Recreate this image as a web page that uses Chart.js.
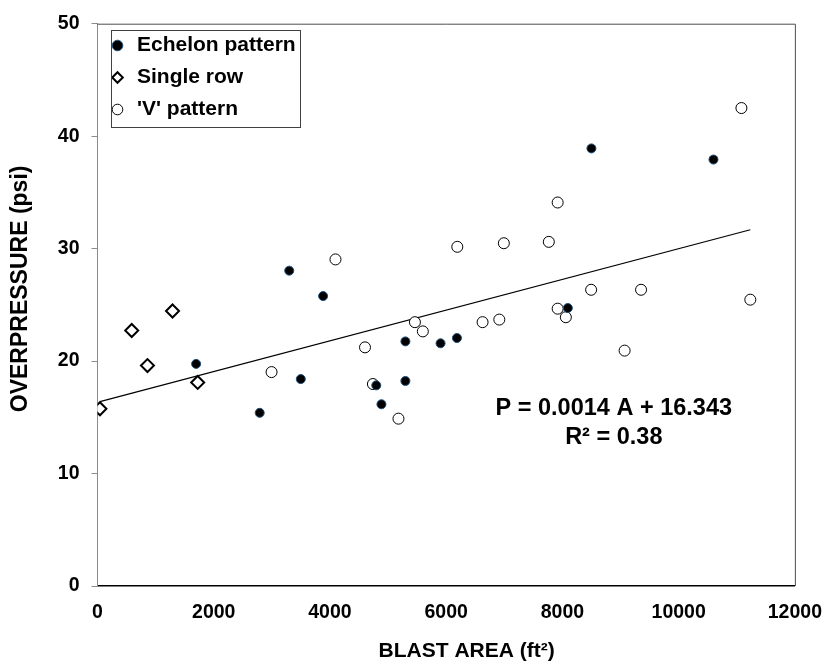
<!DOCTYPE html>
<html>
<head>
<meta charset="utf-8">
<script src="https://cdn.jsdelivr.net/npm/chart.js@4.4.1/dist/chart.umd.min.js"></script>
<style>
html,body{margin:0;padding:0;background:#fff;}
#wrap{width:837px;height:662px;}
</style>
</head>
<body>
<div id="wrap"><canvas id="c" width="837" height="662"></canvas></div>
<script>
// ---- data ----
const seriesNames = ["Echelon pattern", "Single row", "'V' pattern"];

const echelonArea     = [1697, 2791, 3299, 3498, 3882, 4797, 4886, 5298, 5298, 5903, 6185, 8093, 8499, 10599];
const echelonPressure = [19.75, 15.40, 28.04, 18.40, 25.78, 17.84, 16.16, 21.75, 18.23, 21.58, 22.05, 24.72, 38.91, 37.92];

const singleArea     = [42, 589, 860, 1291, 1724];
const singlePressure = [15.76, 22.72, 19.60, 24.45, 18.10];

const vArea     = [2995, 4095, 4603, 4739, 5179, 5462, 5598, 6191, 6626, 6914, 6992, 7766, 7918, 7918, 8059, 8494, 9070, 9353, 11080, 11233];
const vPressure = [19.02, 29.04, 21.22, 17.96, 14.88, 23.46, 22.64, 30.16, 23.46, 23.69, 30.48, 30.60, 34.10, 24.66, 23.90, 26.34, 20.93, 26.34, 42.50, 25.46];

const trendArea     = [42, 11233];
const trendPressure = [16.40, 31.68];

const xTickValues = [0, 2000, 4000, 6000, 8000, 10000, 12000];
const yTickValues = [0, 10, 20, 30, 40, 50];

const xAxisTitle = "BLAST AREA (ft\u00B2)";
const yAxisTitle = "OVERPRESSURE (psi)";
const equationLines = ["P = 0.0014 A + 16.343", "R\u00B2 = 0.38"];

// ---- build chart ----
const FONT = "'Liberation Sans', Arial, Helvetica, sans-serif";
const toPts = (xs, ys) => xs.map((x, i) => ({x: x, y: ys[i]}));

const notesPlugin = {
  id: 'notes',
  afterDraw(chart, args, opts) {
    const ctx = chart.ctx;
    const a = chart.chartArea;
    ctx.save();
    // top and right frame of plot area
    ctx.strokeStyle = '#4d4d4d';
    ctx.lineWidth = 1;
    ctx.beginPath();
    ctx.moveTo(a.left, a.top + 0.5);
    ctx.lineTo(a.right + 0.5, a.top + 0.5);
    ctx.lineTo(a.right + 0.5, a.bottom);
    ctx.stroke();
    // legend frame
    const lg = chart.legend;
    if (lg && lg.legendHitBoxes && lg.legendHitBoxes.length) {
      const hb = lg.legendHitBoxes;
      const l = hb[0].left + 2.5;
      const t = hb[0].top - 5;
      const last = hb[hb.length - 1];
      const b = last.top + last.height + 6.5;
      const r = l + 189;
      ctx.strokeStyle = '#404040';
      ctx.lineWidth = 1;
      ctx.strokeRect(Math.round(l) + 0.5, Math.round(t) + 0.5, Math.round(r - l), Math.round(b - t));
    }
    // regression equation
    const xs = chart.scales.x, ys = chart.scales.y;
    ctx.fillStyle = '#000';
    ctx.font = 'bold 23.5px ' + FONT;
    ctx.textAlign = 'center';
    ctx.textBaseline = 'middle';
    const cx = xs.getPixelForValue(opts.anchorX);
    ctx.fillText(equationLines[0], cx, ys.getPixelForValue(opts.line1Y));
    ctx.fillText(equationLines[1], cx, ys.getPixelForValue(opts.line2Y));
    ctx.restore();
  }
};

new Chart(document.getElementById('c'), {
  type: 'scatter',
  data: {
    datasets: [
      {
        label: seriesNames[0],
        data: toPts(echelonArea, echelonPressure),
        pointStyle: 'circle',
        pointRadius: 4.5,
        pointHoverRadius: 4.5,
        backgroundColor: '#000000',
        borderColor: '#1F4E79',
        pointBorderWidth: 1,
        order: 0
      },
      {
        label: seriesNames[1],
        data: toPts(singleArea, singlePressure),
        pointStyle: 'rectRot',
        pointRadius: 6.5,
        pointHoverRadius: 6.5,
        backgroundColor: '#ffffff',
        borderColor: '#000000',
        pointBorderWidth: 2,
        order: 0
      },
      {
        label: seriesNames[2],
        data: toPts(vArea, vPressure),
        pointStyle: 'circle',
        pointRadius: 5.5,
        pointHoverRadius: 5.5,
        backgroundColor: '#ffffff',
        borderColor: '#000000',
        pointBorderWidth: 1,
        order: 0
      },
      {
        label: 'trend',
        data: toPts(trendArea, trendPressure),
        showLine: true,
        pointRadius: 0,
        borderColor: '#000000',
        borderWidth: 1.2,
        fill: false,
        order: 1
      }
    ]
  },
  options: {
    responsive: false,
    animation: false,
    devicePixelRatio: 1,
    layout: { padding: { top: 19, right: 31, left: 0, bottom: 0 } },
    scales: {
      x: {
        type: 'linear',
        min: 0, max: 12000,
        afterBuildTicks: s => { s.ticks = xTickValues.map(v => ({value: v})); },
        afterFit: s => { s.height = 76; },
        ticks: {
          callback: v => String(v),
          font: { family: FONT, size: 19.5, weight: 'bold' },
          color: '#000',
          padding: 15,
          maxRotation: 0
        },
        grid: { display: false, drawTicks: false },
        border: { display: true, color: '#000000', width: 1.5 },
        title: {
          display: true,
          text: '       ' + xAxisTitle,
          font: { family: FONT, size: 21, weight: 'bold', lineHeight: 1 },
          color: '#000',
          padding: { top: 0, bottom: 0 }
        }
      },
      y: {
        type: 'linear',
        min: 0, max: 50,
        afterBuildTicks: s => { s.ticks = yTickValues.map(v => ({value: v})); },
        afterFit: s => { s.width = 97.5; },
        ticks: {
          callback: v => String(v),
          font: { family: FONT, size: 19.5, weight: 'bold' },
          color: '#000',
          padding: 12
        },
        grid: {
          display: true,
          drawOnChartArea: false,
          drawTicks: true,
          tickLength: 6,
          tickColor: '#8c8c8c',
          color: '#8c8c8c'
        },
        border: { display: true, color: '#8c8c8c', width: 1 },
        title: {
          display: true,
          text: '     ' + yAxisTitle,
          font: { family: FONT, size: 23, weight: 'bold', lineHeight: 1 },
          color: '#000',
          padding: { top: 9, bottom: 0 }
        }
      }
    },
    plugins: {
      legend: {
        position: 'chartArea',
        align: 'start',
        title: { display: true, text: '', font: { size: 24, lineHeight: 1 }, padding: 0 },
        labels: {
          usePointStyle: true,
          boxWidth: 18,
          boxHeight: 7.5,
          padding: 11,
          color: '#000',
          font: { family: FONT, size: 21, weight: 'bold' },
          filter: item => item.datasetIndex < 3
        }
      },
      tooltip: { enabled: false },
      notes: { anchorX: 8884, line1Y: 15.78, line2Y: 13.23 }
    }
  },
  plugins: [notesPlugin]
});
</script>
</body>
</html>
